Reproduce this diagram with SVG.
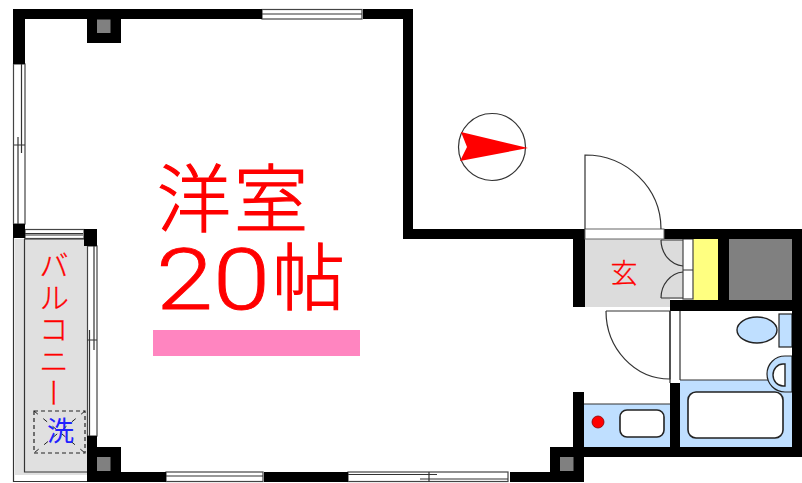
<svg xmlns="http://www.w3.org/2000/svg" width="802" height="483" viewBox="0 0 802 483">
<style>
.w{fill:#000}
.g{fill:#808080}
.t{fill:none;stroke:#333;stroke-width:1.2}
.o{fill:#fff;stroke:#444;stroke-width:1.2}
.b{fill:#bfdfff}
.f{fill:#fff;stroke:#222;stroke-width:1.6}
.j{font-family:"Noto Sans CJK JP","Noto Sans",sans-serif}
.r{fill:#f00;stroke:#f00}
</style>
<rect width="802" height="483" fill="#fff"/>
<g id="balcony">
<rect x="15" y="239" width="72" height="236" fill="#e0e0e0"/>
<path class="t" d="M13.500 238V481.500H87M24.500 239V472H87M24 239H87"/>
<rect x="34" y="411" width="51" height="42" fill="none" stroke="#222" stroke-width="1.2" stroke-dasharray="4 3"/>
<path d="M34 411L85 453M85 411L34 453" fill="none" stroke="#222" stroke-width="1" stroke-dasharray="5 7"/>
<text class="j r" x="54" y="250" font-size="30" stroke-width="0.3" style="writing-mode:vertical-rl;letter-spacing:2px" font-weight="300">バルコニー</text>
<text class="j" x="60.500" y="441" font-size="27" fill="#2222ff" text-anchor="middle">洗</text>
</g>
<g id="entrance">
<rect x="584" y="239" width="86" height="68" fill="#dcdcdc"/>
<rect x="662" y="239" width="21" height="60" fill="#dcdcdc"/>
<rect x="693" y="239" width="25" height="61" fill="#ffff80"/>
<rect x="683" y="239" width="10" height="60" class="o"/>
<path class="t" d="M683 270H693M661 240H683M661 240A24 26 0 0 0 683 266M661 298H683M661 298A24 26 0 0 1 683 272"/>
<text class="j r" x="624" y="283" font-size="27" stroke-width="0.3" text-anchor="middle" font-weight="300">玄</text>
</g>
<g id="wet-rooms">
<rect x="584" y="404" width="86" height="43" class="b"/>
<path class="t" d="M584 404H670"/>
<rect x="620" y="410" width="44" height="27" rx="7" class="f"/>
<circle cx="598" cy="422" r="6" fill="#f00" stroke="#800" stroke-width="0.8"/>
<rect x="680" y="380" width="112" height="67" class="b"/>
<path class="t" d="M680 380H792M670 311V383M680 311V380"/>
<rect x="688" y="392" width="95" height="46" rx="8" class="f"/>
<ellipse cx="757" cy="330" rx="20" ry="13" class="b" stroke="#222" stroke-width="1.400"/>
<rect x="779" y="314" width="13" height="33" class="b" stroke="#222" stroke-width="1.200"/>
<path d="M792 356H785A18 18 0 0 0 785 392H792Z" class="b" stroke="#222" stroke-width="1.200"/>
<path d="M785 364H783A10 11 0 0 0 783 386H785Z" fill="#fff" stroke="#222" stroke-width="1.400"/>
</g>
<g id="windows">
<rect x="13.500" y="64" width="11.500" height="160" class="o"/>
<path class="t" d="M18 137V224M21.500 64V153M14 145H25"/>
<rect x="25" y="229.500" width="59" height="9" class="o"/>
<path class="t" d="M25 233.500H83M25 235H83"/>
<rect x="87.500" y="246" width="9.500" height="190" class="o"/>
<path class="t" d="M94 246V350M89.500 330V436M87 340H97"/>
<rect x="262" y="9.500" width="100" height="9.500" class="o"/>
<path class="t" d="M262 14H362"/>
<rect x="166" y="472" width="97" height="9.500" class="o"/>
<path class="t" d="M166 476H263"/>
<rect x="348" y="472" width="160" height="9.500" class="o"/>
<path class="t" d="M348 474.500H437M420 479H508M429 472V482"/>
</g>
<g id="walls">
<path class="w" d="M13 9H262V19H25V64H13Z"/>
<path class="w" d="M363 9H413V229H585V239H403V19H363Z"/>
<path class="w" d="M664 229H802V457H584V482H510V472H550V447H792V311H670V300H792V239H729V300H718V239H664Z"/>
<path class="w" d="M87 436H97V447H121V472H166V482H87Z"/>
<path class="w" d="M573 239H585V307H573ZM573 392H584V447H573ZM670 383H680V447H670Z"/>
<path class="w" d="M264 472H348V482H264Z"/>
<path class="w" d="M87 19H121V43H87ZM13 224H25V238H13ZM84 229H97V246H84Z"/>
<rect x="97" y="19.500" width="13.500" height="13.500" class="g"/>
<rect x="97" y="457" width="13.500" height="14" class="g"/>
<rect x="560" y="457" width="13.500" height="14" class="g"/>
<rect x="729" y="239" width="63" height="61" class="g"/>
</g>
<g id="doors">
<rect x="585" y="229" width="79" height="10" fill="#fff" stroke="#666" stroke-width="1"/>
<path class="t" d="M585 229V155A76 74 0 0 1 661 229"/>
<path class="t" d="M606 311H670V379A64 68 0 0 1 606 311"/>
</g>
<g id="compass">
<circle cx="492" cy="147" r="33.500" fill="#fff" stroke="#333" stroke-width="1.200"/>
<path class="r" stroke-width="0" d="M461 132L528 148L460 161L467 147Z"/>
</g>
<g id="room-label">
<text class="j r" x="157" y="226" font-size="74" stroke-width="1.200" font-weight="300" letter-spacing="3">洋室</text>
<text class="r" x="156" y="309" font-size="85" stroke-width="0.800" font-weight="300" font-family="Roboto,'Liberation Sans',sans-serif" textLength="114" lengthAdjust="spacingAndGlyphs">20</text>
<text class="j r" x="272" y="304" font-size="73" stroke-width="1.200" font-weight="300">帖</text>
<rect x="153" y="330" width="207" height="26" fill="#ff85c0"/>
</g>
</svg>
